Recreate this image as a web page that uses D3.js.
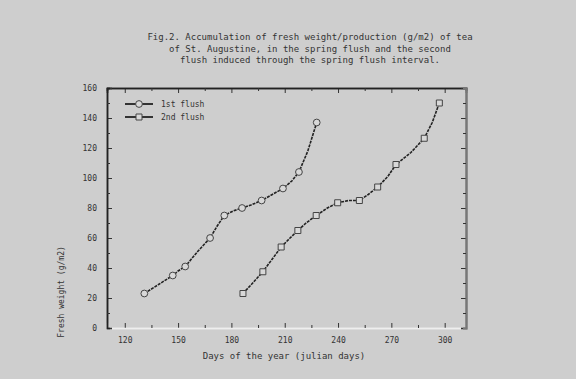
<!DOCTYPE html>
<html>
<head>
<meta charset="utf-8">
<script src="https://cdn.jsdelivr.net/npm/d3@7"></script>
<style>
  body { margin: 0; background: #cecece; }
  svg { display: block; }
  text { font-family: "DejaVu Sans Mono", monospace; fill: #333; }
</style>
</head>
<body>
<div id="chart"></div>
<script>
// data (day of year, cumulative value)
const day1 = [131, 139, 147, 150, 154, 161, 168, 172, 176, 181, 186, 191, 197, 203, 209, 214, 218, 223, 228];
const val1 = [23, 29, 35, 38, 41, 51, 60, 68, 75, 78, 80, 82, 85, 89, 93, 98, 104, 118, 137];
const day2 = [186.5, 192, 197.7, 203, 208, 213, 217.4, 222, 227.7, 234, 239.8, 246, 252, 257, 262.3, 268, 272.6, 281, 288.5, 293, 297];
const val2 = [23, 30, 37.5, 46, 54, 60, 65, 70, 75, 80, 83.5, 85, 85, 89, 94, 101, 109, 117, 126.5, 137, 150];
const seriesNames = ['1st flush', '2nd flush'];
const xTicks = [120, 150, 180, 210, 240, 270, 300];
const yTicks = [0, 20, 40, 60, 80, 100, 120, 140, 160];
const titleLines = [
  'Fig.2. Accumulation of fresh weight/production (g/m2) of tea',
  'of St. Augustine, in the spring flush and the second',
  'flush induced through the spring flush interval.'
];

const W = 576, H = 379;
const svg = d3.select('#chart').append('svg')
  .attr('width', W)
  .attr('height', H);

svg.append('rect').attr('width', W).attr('height', H).attr('fill', '#cecece');

const x = d3.scaleLinear().domain([110, 312]).range([107, 466]);
const y = d3.scaleLinear().domain([0, 160]).range([328, 88]);

// title
svg.append('g').selectAll('text')
  .data(titleLines)
  .enter()
  .append('text')
  .attr('x', 310)
  .attr('y', (d, i) => 40 + i * 11.5)
  .attr('text-anchor', 'middle')
  .style('font-size', '9px')
  .text(d => d);

// minor tick values
const xMinor = d3.range(135, 300, 30);
const yMinor = d3.range(10, 160, 20);

// bottom axis (ticks inside)
const axBottom = svg.append('g')
  .attr('transform', `translate(0,${y(0)})`)
  .call(d3.axisBottom(x).tickValues(xTicks).tickSize(-5).tickPadding(9).tickFormat(d3.format('d')));
axBottom.append('g')
  .call(d3.axisBottom(x).tickValues(xMinor).tickSize(-3).tickFormat(''));

// top axis
const axTop = svg.append('g')
  .attr('transform', `translate(0,${y(160)})`)
  .call(d3.axisTop(x).tickValues(xTicks).tickSize(-5).tickFormat(''));
axTop.append('g')
  .call(d3.axisTop(x).tickValues(xMinor).tickSize(-3).tickFormat(''));

// left axis
const axLeft = svg.append('g')
  .attr('transform', `translate(${x(110)},0)`)
  .call(d3.axisLeft(y).tickValues(yTicks).tickSize(-5).tickPadding(10));
axLeft.append('g')
  .call(d3.axisLeft(y).tickValues(yMinor).tickSize(-3).tickFormat(''));

// right axis
const axRight = svg.append('g')
  .attr('transform', `translate(${x(312)},0)`)
  .call(d3.axisRight(y).tickValues(yTicks).tickSize(-5).tickFormat(''));
axRight.append('g')
  .call(d3.axisRight(y).tickValues(yMinor).tickSize(-3).tickFormat(''));

svg.selectAll('.domain').attr('stroke', '#222').attr('stroke-width', 1.5);
axBottom.selectAll('.domain').attr('stroke', '#eee');
axRight.selectAll('.domain').attr('stroke', '#777').attr('stroke-width', 2);
svg.selectAll('.tick line').attr('stroke', '#333');
svg.selectAll('.tick text').style('font-size', '8px').attr('fill', '#333');

// axis titles
svg.append('text')
  .attr('x', 284)
  .attr('y', 359)
  .attr('text-anchor', 'middle')
  .style('font-size', '9px')
  .text('Days of the year (julian days)');

svg.append('text')
  .attr('transform', 'translate(64,292) rotate(-90)')
  .attr('text-anchor', 'middle')
  .style('font-size', '8px')
  .attr('fill', '#555')
  .text('Fresh weight (g/m2)');

// series
const series = [
  { name: seriesNames[0], pts: day1.map((d, i) => [d, val1[i]]), shape: d3.symbolCircle },
  { name: seriesNames[1], pts: day2.map((d, i) => [d, val2[i]]), shape: d3.symbolSquare }
];

const line = d3.line().x(d => x(d[0])).y(d => y(d[1]));

series.forEach(s => {
  svg.append('path')
    .datum(s.pts)
    .attr('fill', 'none')
    .attr('stroke', '#222')
    .attr('stroke-width', 1.6)
    .attr('stroke-dasharray', '3,1')
    .attr('d', line);

  svg.append('g').selectAll('path')
    .data(s.pts.filter((d, i) => i % 2 === 0))
    .enter()
    .append('path')
    .attr('transform', d => `translate(${x(d[0])},${y(d[1])})`)
    .attr('d', d3.symbol().type(s.shape).size(36))
    .attr('fill', '#d8d8d8')
    .attr('stroke', '#444')
    .attr('stroke-width', 1);
});

// legend
const legend = svg.append('g').attr('transform', 'translate(125,104)');
series.forEach((s, i) => {
  const g = legend.append('g').attr('transform', `translate(0,${i * 13})`);
  g.append('line')
    .attr('x1', 0).attr('x2', 28)
    .attr('stroke', '#222').attr('stroke-width', 1.8);
  g.append('path')
    .attr('transform', 'translate(14,0)')
    .attr('d', d3.symbol().type(s.shape).size(36))
    .attr('fill', '#d8d8d8')
    .attr('stroke', '#444');
  g.append('text')
    .attr('x', 36)
    .attr('y', 3)
    .style('font-size', '8px')
    .text(s.name);
});
</script>
</body>
</html>
